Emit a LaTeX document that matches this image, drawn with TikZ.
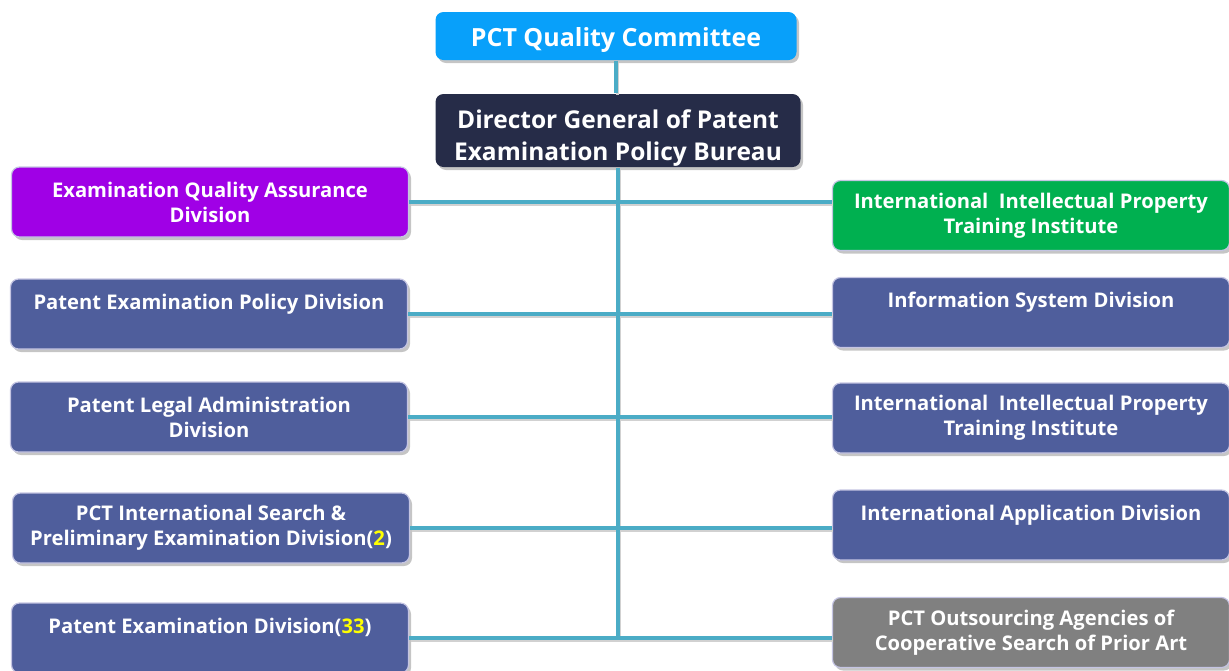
\documentclass[tikz,border=0pt]{standalone}
\usepackage{fontspec}
\setmainfont{Open Sans}
\usetikzlibrary{shadows}

\definecolor{qcblue}{RGB}{8,160,250}
\definecolor{dgnavy}{RGB}{38,44,72}
\definecolor{qapurple}{RGB}{160,0,230}
\definecolor{trgreen}{RGB}{0,176,80}
\definecolor{divblue}{RGB}{79,94,156}
\definecolor{outgray}{RGB}{128,128,128}
\definecolor{linkteal}{RGB}{75,172,198}
\definecolor{rimlilac}{RGB}{196,196,226}
\definecolor{numyellow}{RGB}{255,255,0}

\tikzset{
    unit box/.style={rounded corners=8pt, draw=rimlilac, line width=1.2pt, text=white,
        align=center, inner sep=0pt,
        drop shadow={shadow xshift=2.5pt, shadow yshift=-3pt, fill=black!45, opacity=.5}},
    div box/.style={unit box, fill=divblue, minimum width=397pt, minimum height=70pt,
        font=\bfseries\fontsize{20.2}{25}\selectfont},
    head box/.style={unit box, draw=none},
    head text/.style={text=white, align=center, inner sep=0pt,
        font=\bfseries\fontsize{25}{32}\selectfont},
    link/.style={draw=linkteal, line width=3.2pt},
    link shade/.style={draw=black!18, line width=3.2pt}
}

\begin{document}
\begin{tikzpicture}[x=1pt, y=-1pt]
    \useasboundingbox (0,0) rectangle (1229,670);
    \clip (0,0) rectangle (1229,670);

    % head
    \node[head box, fill=qcblue, minimum width=361pt, minimum height=48pt] (Q) at (616,36) {};
    \node[head text] (Qt) at ([yshift=-4.5pt]Q.center) {PCT Quality Committee};
    \node[head box, fill=dgnavy, minimum width=365pt, minimum height=73pt] (G) at (618,130.5) {};
    \node[head text, font=\bfseries\fontsize{24.5}{32}\selectfont] (Gt) at ([yshift=-7.5pt]G.center) {Director General of Patent\\Examination Policy Bureau};

    % left side
    \node[div box, fill=qapurple] (L1) at (210,202) {Examination Quality Assurance\\Division};
    \node[div box] (L2) at (209,314) {Patent Examination Policy Division\\\mbox{}};
    \node[div box] (L3) at (209,417) {Patent Legal Administration\\Division};
    \node[div box] (L4) at (211,528) {PCT International Search \&\\Preliminary Examination Division(\textcolor{numyellow}{2})};
    \node[div box] (L5) at (210,638) {Patent Examination Division(\textcolor{numyellow}{33})\\\mbox{}};

    % right side
    \node[div box, fill=trgreen] (R1) at (1031,215.5) {International\ \ Intellectual Property\\Training Institute};
    \node[div box] (R2) at (1031,312.5) {Information System Division\\\mbox{}};
    \node[div box] (R3) at (1031,418) {International\ \ Intellectual Property\\Training Institute};
    \node[div box] (R4) at (1031,525) {International Application Division\\\mbox{}};
    \node[div box, fill=outgray] (R5) at (1031,632.5) {PCT Outsourcing Agencies of\\Cooperative Search of Prior Art};

    % connectors, with a faint shade under them
    \begin{scope}[transform canvas={xshift=1.5pt, yshift=-2pt}]
        \draw[link shade] (Q.south) -- (Q.south |- G.north);
        \draw[link shade] (G.south) -- (G.south |- L5.east);
        \foreach \l/\r in {L1/R1, L2/R2, L3/R3, L4/R4, L5/R5}
            \draw[link shade] (\l.east) -- (\l.east -| \r.west);
    \end{scope}
    \draw[link] (Q.south) -- (Q.south |- G.north);
    \draw[link] (G.south) -- (G.south |- L5.east);
    \foreach \l/\r in {L1/R1, L2/R2, L3/R3, L4/R4, L5/R5}
        \draw[link] (\l.east) -- (\l.east -| \r.west);
\end{tikzpicture}
\end{document}
